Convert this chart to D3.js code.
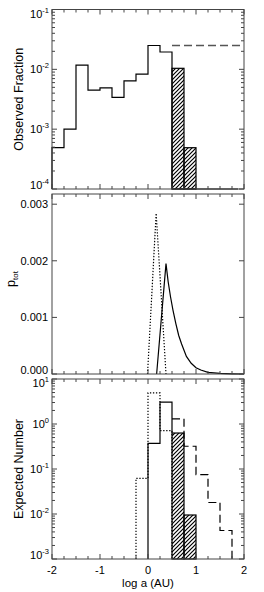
<!DOCTYPE html>
<html>
<head>
<meta charset="utf-8">
<script src="https://cdn.jsdelivr.net/npm/d3@7"></script>
<style>
  body { margin: 0; background: #fff; }
  svg { display: block; font-family: "Liberation Sans", Arial, Helvetica, sans-serif; }
</style>
</head>
<body>
<svg id="chart" width="264" height="592"></svg>
<script>
// Bin setup (log a, AU)
const binWidth = 0.25;

// Top panel: observed fraction
const obsBinStarts = [-2, -1.75, -1.5, -1.25, -1, -0.75, -0.5, -0.25, 0, 0.25];
const obsValues = [4.9e-4, 1.0e-3, 1.18e-2, 4.5e-3, 4.9e-3, 3.4e-3, 6.4e-3, 8.3e-3, 2.5e-2, 1.95e-2];
const obsTailEnd = 1.875;
const obsHatchStarts = [0.5, 0.75];
const obsHatchValues = [1.04e-2, 4.9e-4];
const obsLimitRange = [0.5, 2];
const obsLimitValue = 2.5e-2;

// Middle panel: p_tot
const ptotSolidX = [0.18, 0.375, 0.42, 0.47, 0.52, 0.58, 0.64, 0.7, 0.8, 0.9, 1.0, 1.1, 1.25, 1.5, 1.75, 2.0];
const ptotSolidY = [0, 0.00195, 0.00163, 0.00136, 0.00113, 0.00089, 0.00068, 0.00053, 0.00031, 0.00019, 0.00011, 0.00007, 0.00003, 0.00001, 0.000003, 0];
const ptotDotX = [-0.01, 0.17, 0.375];
const ptotDotY = [0, 0.00284, 0];

// Bottom panel: expected number
const expSolidStarts = [0, 0.25];
const expSolidValues = [0.37, 3.06];
const expHatchStarts = [0.5, 0.75];
const expHatchValues = [0.63, 0.0095];
const expDotStarts = [-0.25, 0, 0.25];
const expDotValues = [0.062, 4.9, 0.71];
const expDashStarts = [0.5, 0.75, 1.0, 1.25, 1.5];
const expDashValues = [1.3, 0.32, 0.075, 0.018, 0.0043];

// Tick labels
const xTickValues = [-2, -1, 0, 1, 2];
const obsTickExps = [-4, -3, -2, -1];
const ptotTickValues = [0, 0.001, 0.002, 0.003];
const expTickExps = [-3, -2, -1, 0, 1];

const left = 52, right = 244;
const svg = d3.select("#chart");

const x = d3.scaleLinear().domain([-2, 2]).range([left, right]);
const y1 = d3.scaleLog().domain([1e-4, 1e-1]).range([189, 9.5]);
const y2 = d3.scaleLinear().domain([0, 0.00318]).range([374, 194]);
const y3 = d3.scaleLog().domain([1e-3, 1e1]).range([559, 379]);

// hatch pattern for the shaded bins
svg.append("defs")
  .append("pattern")
  .attr("id", "hatch")
  .attr("patternUnits", "userSpaceOnUse")
  .attr("width", 4)
  .attr("height", 4)
  .append("path")
  .attr("d", "M-1,1 l2,-2 M0,4 l4,-4 M3,5 l2,-2")
  .attr("stroke", "#000")
  .attr("stroke-width", 1.2);

// turn bins into step points, value below domain goes to the floor
function stepPoints(starts, values, y, fromFloor, toFloor, end) {
  const floor = y.domain()[0];
  const pts = [];
  if (fromFloor) pts.push([starts[0], floor]);
  starts.forEach((s, i) => {
    const v = Math.max(values[i], floor);
    pts.push([s, v]);
    pts.push([s + binWidth, v]);
  });
  if (toFloor) pts.push([starts[starts.length - 1] + binWidth, floor]);
  if (end !== undefined) pts.push([end, floor]);
  return pts;
}

function drawPath(pts, y, opts) {
  const line = d3.line().x(d => x(d[0])).y(d => y(d[1]));
  svg.append("path")
    .attr("d", line(pts))
    .attr("fill", "none")
    .attr("stroke", opts.color || "#000")
    .attr("stroke-width", opts.width || 1.2)
    .attr("stroke-dasharray", opts.dash || null);
}

function drawHatch(starts, values, y) {
  const floor = y.domain()[0];
  svg.append("g")
    .selectAll("rect")
    .data(starts)
    .join("rect")
    .attr("x", d => x(d))
    .attr("width", d => x(d + binWidth) - x(d))
    .attr("y", (d, i) => y(values[i]))
    .attr("height", (d, i) => y(floor) - y(values[i]))
    .attr("fill", "url(#hatch)")
    .attr("stroke", "#000")
    .attr("stroke-width", 1.2);
}

// frame + ticks on all four sides
function drawFrame(y, logScale, majors) {
  const [top, bottom] = [y.range()[1], y.range()[0]];
  const g = svg.append("g").attr("stroke", "#444").attr("stroke-width", 1);
  g.append("rect")
    .attr("x", left).attr("y", top)
    .attr("width", right - left).attr("height", bottom - top)
    .attr("fill", "none");

  // x ticks every 0.25
  d3.range(-2, 2.001, 0.25).forEach(v => {
    const len = Math.abs(v - Math.round(v)) < 1e-6 ? 5 : 3;
    g.append("line").attr("x1", x(v)).attr("x2", x(v)).attr("y1", bottom).attr("y2", bottom - len);
    g.append("line").attr("x1", x(v)).attr("x2", x(v)).attr("y1", top).attr("y2", top + len);
  });

  // y ticks
  const yt = [];
  if (logScale) {
    const [lo, hi] = y.domain();
    for (let e = Math.log10(lo); e < Math.log10(hi); e++) {
      for (let m = 1; m < 10; m++) yt.push([m * Math.pow(10, e), m === 1 ? 5 : 3]);
    }
    yt.push([hi, 5]);
  } else {
    majors.forEach(v => yt.push([v, 5]));
  }
  yt.forEach(([v, len]) => {
    g.append("line").attr("x1", left).attr("x2", left + len).attr("y1", y(v)).attr("y2", y(v));
    g.append("line").attr("x1", right).attr("x2", right - len).attr("y1", y(v)).attr("y2", y(v));
  });
}

// y tick labels: bottom sits on tick, top hangs below tick, rest centered
function labelShift(i, n) {
  if (i === 0) return 0;
  if (i === n - 1) return 8;
  return 4;
}

function powerLabels(y, exps) {
  exps.forEach((e, i) => {
    const t = svg.append("text")
      .attr("x", left - 3)
      .attr("y", y(Math.pow(10, e)) + labelShift(i, exps.length))
      .attr("text-anchor", "end")
      .attr("font-size", "11px")
      .attr("fill", "#000");
    t.append("tspan").text("10");
    t.append("tspan").attr("dy", -5).attr("font-size", "7.5px").text(e);
  });
}

// ---- Top panel
drawPath(stepPoints(obsBinStarts, obsValues, y1, true, true, obsTailEnd), y1, {});
drawHatch(obsHatchStarts, obsHatchValues, y1);
drawPath(obsLimitRange.map(v => [v, obsLimitValue]), y1, { color: "#555", width: 1.5, dash: "8,4" });
drawFrame(y1, true);
powerLabels(y1, obsTickExps);

// ---- Middle panel
drawPath(ptotDotX.map((v, i) => [v, ptotDotY[i]]), y2, { dash: "1.3,1.7" });
drawPath(ptotSolidX.map((v, i) => [v, ptotSolidY[i]]), y2, {});
drawFrame(y2, false, ptotTickValues);
ptotTickValues.forEach((v, i) => {
  svg.append("text")
    .attr("x", left - 4)
    .attr("y", y2(v) + (i === 0 ? 0 : 4))
    .attr("text-anchor", "end")
    .attr("font-size", "11px")
    .text(d3.format(".3f")(v));
});

// ---- Bottom panel
drawPath(stepPoints(expDotStarts, expDotValues, y3, true, true), y3, { dash: "1.3,1.7" });
drawPath(stepPoints(expDashStarts, expDashValues, y3, false, true), y3, { dash: "8,4" });
drawHatch(expHatchStarts, expHatchValues, y3);
drawPath(stepPoints(expSolidStarts, expSolidValues, y3, true, false).concat([[0.5, expHatchValues[0]]]), y3, {});
drawFrame(y3, true);
powerLabels(y3, expTickExps);

// x tick labels on the bottom panel
xTickValues.forEach(v => {
  svg.append("text")
    .attr("x", x(v))
    .attr("y", 574)
    .attr("text-anchor", "middle")
    .attr("font-size", "11px")
    .text(v);
});

// axis titles
svg.append("text")
  .attr("x", x(0))
  .attr("y", 587)
  .attr("text-anchor", "middle")
  .attr("font-size", "11.5px")
  .text("log a (AU)");

svg.append("text")
  .attr("transform", "translate(23," + (y1(1e-4) + y1(1e-1)) / 2 + ") rotate(-90)")
  .attr("text-anchor", "middle")
  .attr("font-size", "12.5px")
  .text("Observed Fraction");

const ptotLabel = svg.append("text")
  .attr("transform", "translate(15," + 279 + ") rotate(-90)")
  .attr("text-anchor", "middle")
  .attr("font-size", "12.5px");
ptotLabel.append("tspan").text("p");
ptotLabel.append("tspan").attr("dy", 3).attr("font-size", "8px").text("tot");

svg.append("text")
  .attr("transform", "translate(23," + (y3(1e-3) + y3(1e1)) / 2 + ") rotate(-90)")
  .attr("text-anchor", "middle")
  .attr("font-size", "12.5px")
  .text("Expected Number");
</script>
</body>
</html>
